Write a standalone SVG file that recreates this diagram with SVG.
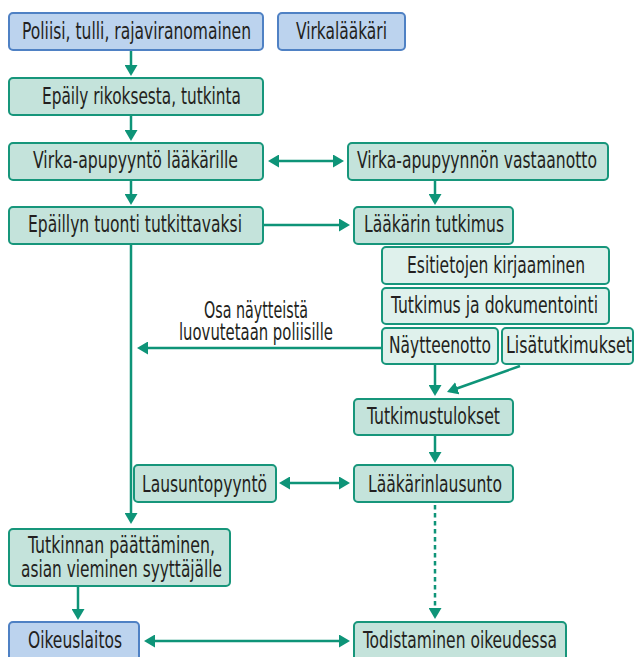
<svg xmlns="http://www.w3.org/2000/svg" width="636" height="657" viewBox="0 0 636 657">
<style>
  .b rect{fill:#bcd3ee;stroke:#4f81c4;stroke-width:2}
  .g rect{fill:#c4e3db;stroke:#17967b;stroke-width:2}
  .l rect{fill:#dff1ec;stroke:#17967b;stroke-width:2}
  text{font-family:"Liberation Sans Narrow","DejaVu Sans Condensed","Liberation Sans",sans-serif;font-size:23.5px;fill:#231f20;text-anchor:middle}
  .c path{fill:none;stroke:#0e9478;stroke-width:2.5}
</style>
<defs>
  <marker id="ah" viewBox="0 0 11 13" markerWidth="11" markerHeight="13" refX="8" refY="6.5" orient="auto-start-reverse" markerUnits="userSpaceOnUse">
    <path d="M0,0 L11,6.5 L0,13 z" fill="#0e9478"/>
  </marker>
</defs>
<g class="c" id="connectors">
  <path d="M131,51 V73" marker-end="url(#ah)"/>
  <path d="M131,116 V138" marker-end="url(#ah)"/>
  <path d="M131,180 V202" marker-end="url(#ah)"/>
  <path d="M271,161 H341" marker-start="url(#ah)" marker-end="url(#ah)"/>
  <path d="M435,180 V202" marker-end="url(#ah)"/>
  <path d="M264,225 H347" marker-end="url(#ah)"/>
  <path d="M131,244 V521" marker-end="url(#ah)"/>
  <path d="M381,348 H140" marker-end="url(#ah)"/>
  <path d="M435,365 V393" marker-end="url(#ah)"/>
  <path d="M520,366 L449.8,391" marker-end="url(#ah)"/>
  <path d="M435,436 V460" marker-end="url(#ah)"/>
  <path d="M282,483 H347" marker-start="url(#ah)" marker-end="url(#ah)"/>
  <path d="M435,505 V616" stroke-dasharray="4.5 3.5" marker-end="url(#ah)"/>
  <path d="M78,587 V617" marker-end="url(#ah)"/>
  <path d="M147,641 H347" marker-start="url(#ah)" marker-end="url(#ah)"/>
  <text x="256" y="318" textLength="104" lengthAdjust="spacingAndGlyphs">Osa näytteistä</text>
  <text x="256" y="340" textLength="154" lengthAdjust="spacingAndGlyphs">luovutetaan poliisille</text>
</g>
<g id="n1" class="b"><rect x="9" y="13" width="254" height="37" rx="4"/><text x="136.5" y="39" textLength="229" lengthAdjust="spacingAndGlyphs">Poliisi, tulli, rajaviranomainen</text></g>
<g id="n2" class="b"><rect x="278" y="13" width="127" height="37" rx="4"/><text x="341.5" y="39" textLength="91" lengthAdjust="spacingAndGlyphs">Virkalääkäri</text></g>
<g id="n3" class="g"><rect x="9" y="78" width="254" height="37" rx="4"/><text x="141.5" y="104" textLength="199" lengthAdjust="spacingAndGlyphs">Epäily rikoksesta, tutkinta</text></g>
<g id="n4" class="g"><rect x="9" y="143" width="254" height="37" rx="4"/><text x="135.5" y="168" textLength="205" lengthAdjust="spacingAndGlyphs">Virka-apupyyntö lääkärille</text></g>
<g id="n5" class="g"><rect x="9" y="207" width="254" height="37" rx="4"/><text x="135" y="232" textLength="214" lengthAdjust="spacingAndGlyphs">Epäillyn tuonti tutkittavaksi</text></g>
<g id="n6" class="g"><rect x="348" y="143" width="260" height="37" rx="4"/><text x="477" y="168" textLength="240" lengthAdjust="spacingAndGlyphs">Virka-apupyynnön vastaanotto</text></g>
<g id="n7" class="g"><rect x="354" y="207" width="159" height="37" rx="4"/><text x="434" y="232" textLength="140" lengthAdjust="spacingAndGlyphs">Lääkärin tutkimus</text></g>
<g id="n8" class="l"><rect x="382" y="247" width="227" height="37" rx="4"/><text x="496" y="273" textLength="178" lengthAdjust="spacingAndGlyphs">Esitietojen kirjaaminen</text></g>
<g id="n9" class="l"><rect x="382" y="288" width="227" height="36" rx="4"/><text x="494.5" y="313" textLength="207" lengthAdjust="spacingAndGlyphs">Tutkimus ja dokumentointi</text></g>
<g id="n10" class="l"><rect x="382" y="328" width="116" height="36" rx="4"/><text x="440" y="353" textLength="102" lengthAdjust="spacingAndGlyphs">Näytteenotto</text></g>
<g id="n11" class="l"><rect x="502" y="328" width="131" height="36" rx="4"/><text x="569" y="353" textLength="126" lengthAdjust="spacingAndGlyphs">Lisätutkimukset</text></g>
<g id="n12" class="g"><rect x="354" y="399" width="159" height="36" rx="4"/><text x="433.5" y="424" textLength="133" lengthAdjust="spacingAndGlyphs">Tutkimustulokset</text></g>
<g id="n13" class="g"><rect x="134" y="465" width="142" height="37" rx="4"/><text x="204.5" y="492" textLength="125" lengthAdjust="spacingAndGlyphs">Lausuntopyyntö</text></g>
<g id="n14" class="g"><rect x="354" y="465" width="159" height="37" rx="4"/><text x="435" y="492" textLength="134" lengthAdjust="spacingAndGlyphs">Lääkärinlausunto</text></g>
<g id="n15" class="g"><rect x="9" y="529" width="221" height="57" rx="4"/><text x="121.5" y="553" textLength="187" lengthAdjust="spacingAndGlyphs">Tutkinnan päättäminen,</text><text x="121.5" y="577" textLength="201" lengthAdjust="spacingAndGlyphs">asian vieminen syyttäjälle</text></g>
<g id="n16" class="b"><rect x="9" y="622" width="130" height="40" rx="4"/><text x="75" y="648" textLength="94" lengthAdjust="spacingAndGlyphs">Oikeuslaitos</text></g>
<g id="n17" class="g"><rect x="354" y="622" width="212" height="40" rx="4"/><text x="460" y="648" textLength="194" lengthAdjust="spacingAndGlyphs">Todistaminen oikeudessa</text></g>
</svg>
